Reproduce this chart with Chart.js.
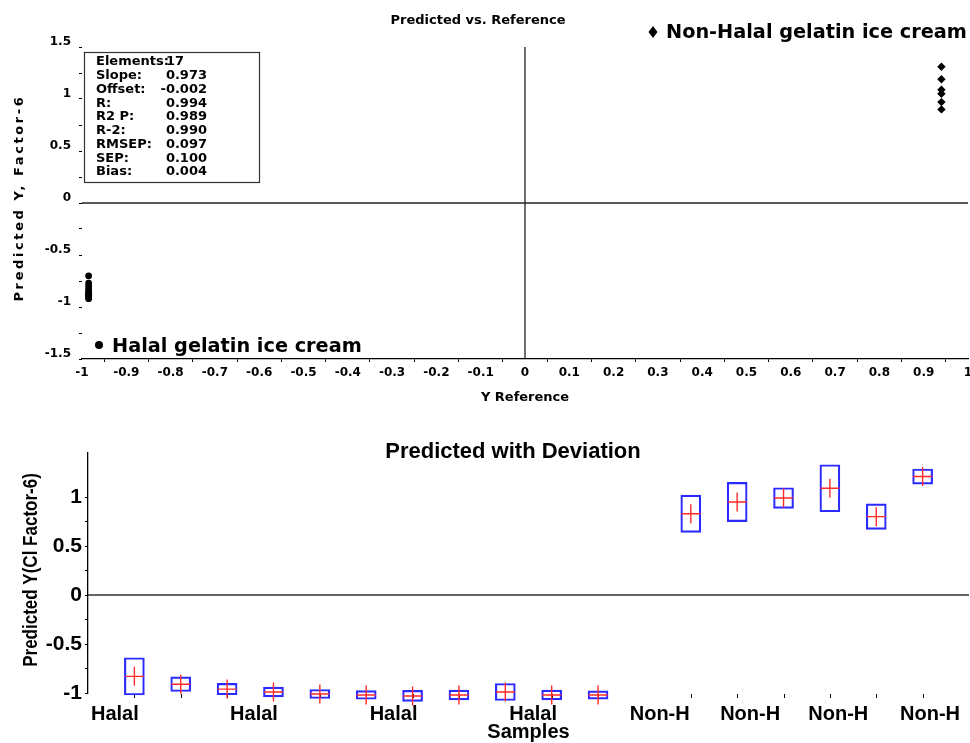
<!DOCTYPE html>
<html>
<head>
<meta charset="utf-8">
<script src="https://cdn.jsdelivr.net/npm/chart.js@4/dist/chart.umd.min.js"></script>
<style>
  html, body { margin: 0; padding: 0; background: #fff; overflow: hidden; }
  #top { position: absolute; left: 0; top: 0; }
  #bottom { position: absolute; left: 0; top: 420px; }
</style>
</head>
<body>
<canvas id="top" width="970" height="410"></canvas>
<canvas id="bottom" width="970" height="323"></canvas>
<script>
// ---------- Predicted vs. Reference ----------
const halalReference    = [-0.985, -0.985, -0.985, -0.985, -0.985, -0.985, -0.985, -0.985, -0.985, -0.985, -0.985];
const halalPredicted    = [-0.70, -0.77, -0.80, -0.83, -0.85, -0.87, -0.88, -0.89, -0.90, -0.91, -0.92];
const nonHalalReference = [0.94, 0.94, 0.94, 0.94, 0.94, 0.94];
const nonHalalPredicted = [1.31, 1.19, 1.09, 1.05, 0.97, 0.90];

const statLabels = ['Elements:', 'Slope:', 'Offset:', 'R:', 'R2 P:', 'R-2:', 'RMSEP:', 'SEP:', 'Bias:'];
const statValues = ['17', '0.973', '-0.002', '0.994', '0.989', '0.990', '0.097', '0.100', '0.004'];
const groupNames = ['Halal gelatin ice cream', 'Non-Halal gelatin ice cream'];

// ---------- Predicted with Deviation ----------
const halalSamplePos    = [1, 2, 3, 4, 5, 6, 7, 8, 9, 10, 11];
const halalSamplePred   = [-0.83, -0.91, -0.96, -0.99, -1.01, -1.02, -1.03, -1.02, -0.99, -1.02, -1.02];
const halalSampleDev    = [0.19, 0.075, 0.058, 0.05, 0.046, 0.044, 0.056, 0.05, 0.087, 0.05, 0.042];
const nonHalalSamplePos  = [13, 14, 15, 16, 17, 18];
const nonHalalSamplePred = [0.83, 0.95, 0.99, 1.09, 0.80, 1.21];
const nonHalalSampleDev  = [0.19, 0.20, 0.105, 0.24, 0.13, 0.077];
const sampleTickPos    = [0.58, 3.58, 6.59, 9.6, 12.33, 14.28, 16.18, 18.16];
const sampleTickLabels = ['Halal', 'Halal', 'Halal', 'Halal', 'Non-H', 'Non-H', 'Non-H', 'Non-H'];

const DJ = 'DejaVu Sans';
const LS = 'Liberation Sans';
Chart.defaults.color = '#000';

function fmt1(v) { return String(Number(v.toFixed(2))); }

// Text decorations of the scatter panel: title, spaced y title, statistics box, group labels
const scatterDecor = {
  id: 'scatterDecor',
  afterDraw(chart) {
    const ctx = chart.ctx;
    ctx.save();
    ctx.fillStyle = '#000';
    ctx.textBaseline = 'middle';

    ctx.font = 'bold 13px "' + DJ + '"';
    ctx.textAlign = 'center';
    ctx.fillText('Predicted vs. Reference', 478, 21);

    ctx.save();
    ctx.translate(20, 198);
    ctx.rotate(-Math.PI / 2);
    ctx.letterSpacing = '2.6px';
    ctx.fillText('Predicted Y, Factor-6', 0, 0);
    ctx.restore();

    ctx.strokeStyle = '#333';
    ctx.lineWidth = 1.2;
    ctx.strokeRect(84.5, 52.5, 175, 130);
    ctx.font = 'bold 13px "' + DJ + '"';
    statLabels.forEach((lab, i) => {
      const y = 62 + i * 13.75;
      ctx.textAlign = 'left';
      ctx.fillText(lab, 96, y);
      const v = statValues[i];
      if (v.indexOf('.') >= 0) { ctx.textAlign = 'right'; ctx.fillText(v, 207, y); }
      else { ctx.textAlign = 'left'; ctx.fillText(v, 166, y); }
    });

    ctx.font = 'bold 19.3px "' + DJ + '"';
    ctx.textAlign = 'left';
    ctx.textBaseline = 'alphabetic';
    ctx.fillText(groupNames[0], 112, 352);
    ctx.fillText(groupNames[1], 666, 38);
    ctx.beginPath();
    ctx.arc(99, 345, 4, 0, Math.PI * 2);
    ctx.fill();
    ctx.beginPath();
    ctx.moveTo(653, 26); ctx.lineTo(657.5, 32); ctx.lineTo(653, 38); ctx.lineTo(648.5, 32);
    ctx.closePath();
    ctx.fill();
    ctx.restore();
  }
};

new Chart(document.getElementById('top'), {
  type: 'scatter',
  data: {
    datasets: [
      {
        label: groupNames[0],
        data: halalReference.map((x, i) => ({ x: x, y: halalPredicted[i] })),
        pointStyle: 'circle', pointRadius: 3.4, backgroundColor: '#000', borderColor: '#000', borderWidth: 0
      },
      {
        label: groupNames[1],
        data: nonHalalReference.map((x, i) => ({ x: x, y: nonHalalPredicted[i] })),
        pointStyle: 'rectRot', pointRadius: 4.2, backgroundColor: '#000', borderColor: '#000', borderWidth: 0
      },
      {
        data: [{ x: -1, y: 0 }, { x: 1, y: 0 }],
        showLine: true, pointRadius: 0, borderColor: '#222', borderWidth: 1.3
      },
      {
        data: [{ x: 0, y: -1.5 }, { x: 0, y: 1.5 }],
        showLine: true, pointRadius: 0, borderColor: '#222', borderWidth: 1.3
      }
    ]
  },
  options: {
    responsive: false,
    animation: false,
    events: [],
    layout: { autoPadding: false, padding: { left: 0, right: 2, top: 47, bottom: 0 } },
    plugins: { legend: { display: false }, tooltip: { enabled: false }, title: { display: false } },
    scales: {
      x: {
        type: 'linear', min: -1, max: 1,
        afterFit(s) { s.height = 51; s.paddingLeft = 0; s.paddingRight = 0; },
        border: { display: true, color: '#000', width: 1.3 },
        grid: {
          drawOnChartArea: false, drawTicks: true, tickLength: 3,
          tickColor: (c) => (Math.round(c.tick.value * 100) % 10 === 0 ? 'rgba(0,0,0,0)' : '#000')
        },
        ticks: {
          stepSize: 0.05, autoSkip: false, maxRotation: 0, minRotation: 0, padding: 4,
          font: { family: DJ, weight: 'bold', size: 12 },
          callback: (v) => { const r = Math.round(v * 100); return r % 10 === 0 ? fmt1(r / 100) : ''; }
        },
        title: {
          display: true, text: 'Y Reference',
          font: { family: DJ, weight: 'bold', size: 13 }, padding: { top: 0, bottom: 5 }
        }
      },
      y: {
        type: 'linear', min: -1.5, max: 1.5,
        afterFit(s) { s.width = 82; },
        border: { display: false },
        grid: { drawOnChartArea: false, drawTicks: true, tickLength: 3, tickColor: '#000' },
        ticks: {
          stepSize: 0.25, autoSkip: false, padding: 8, labelOffset: -5,
          font: { family: DJ, weight: 'bold', size: 12 },
          callback: (v) => { const r = Math.round(v * 100); return r % 50 === 0 ? fmt1(r / 100) : ''; }
        }
      }
    }
  },
  plugins: [scatterDecor]
});

// Title, condensed y title and sample tick marks of the deviation panel
const deviationDecor = {
  id: 'deviationDecor',
  beforeDatasetsDraw(chart) {
    const ctx = chart.ctx;
    const xs = chart.scales.x;
    const b = chart.chartArea.bottom;
    ctx.save();
    ctx.strokeStyle = '#000';
    ctx.lineWidth = 1;
    halalSamplePos.concat(nonHalalSamplePos).forEach((p) => {
      const x = Math.round(xs.getPixelForValue(p)) + 0.5;
      ctx.beginPath();
      ctx.moveTo(x, b + 1);
      ctx.lineTo(x, b + 5);
      ctx.stroke();
    });
    ctx.restore();
  },
  afterDraw(chart) {
    const ctx = chart.ctx;
    ctx.save();
    ctx.fillStyle = '#000';
    ctx.textAlign = 'center';
    ctx.textBaseline = 'middle';
    ctx.font = 'bold 22px "' + LS + '"';
    ctx.fillText('Predicted with Deviation', 513, 32);

    ctx.translate(31, 150);
    ctx.rotate(-Math.PI / 2);
    ctx.scale(0.85, 1);
    ctx.font = 'bold 20px "' + LS + '"';
    ctx.fillText('Predicted Y(Cl Factor-6)', 0, 0);
    ctx.restore();
  }
};

const boxData = halalSamplePos.map((p, i) => ({ x: p, y: [halalSamplePred[i] - halalSampleDev[i], halalSamplePred[i] + halalSampleDev[i]] }))
  .concat(nonHalalSamplePos.map((p, i) => ({ x: p, y: [nonHalalSamplePred[i] - nonHalalSampleDev[i], nonHalalSamplePred[i] + nonHalalSampleDev[i]] })));
const crossData = halalSamplePos.map((p, i) => ({ x: p, y: halalSamplePred[i] }))
  .concat(nonHalalSamplePos.map((p, i) => ({ x: p, y: nonHalalSamplePred[i] })));

new Chart(document.getElementById('bottom'), {
  type: 'bar',
  data: {
    datasets: [
      {
        type: 'scatter', data: crossData,
        pointStyle: 'cross', pointRadius: 9.5, borderColor: '#ff2a2a', borderWidth: 1.4, clip: false
      },
      {
        type: 'bar', data: boxData,
        backgroundColor: 'rgba(0,0,0,0)', borderColor: '#2b2bff', borderWidth: 1.5,
        borderSkipped: false, barThickness: 20, grouped: false, clip: false
      },
      {
        type: 'scatter', data: [{ x: 0, y: 0 }, { x: 19, y: 0 }],
        showLine: true, pointRadius: 0, borderColor: '#333', borderWidth: 1.5
      }
    ]
  },
  options: {
    responsive: false,
    animation: false,
    events: [],
    layout: { autoPadding: false, padding: { left: 0, right: 1, top: 33, bottom: 0 } },
    plugins: { legend: { display: false }, tooltip: { enabled: false }, title: { display: false } },
    scales: {
      x: {
        type: 'linear', min: 0, max: 19, offset: false,
        afterFit(s) { s.height = 50; s.paddingLeft = 0; s.paddingRight = 0; },
        afterBuildTicks(s) { s.ticks = sampleTickPos.map((v) => ({ value: v })); },
        border: { display: false },
        grid: { display: false, drawTicks: false, offset: false },
        ticks: {
          autoSkip: false, maxRotation: 0, minRotation: 0, padding: 9,
          font: { family: LS, weight: 'bold', size: 20 },
          callback: (v, i) => sampleTickLabels[i]
        },
        title: {
          display: true, text: 'Samples',
          font: { family: LS, weight: 'bold', size: 20, lineHeight: 1 }, padding: { top: 0, bottom: 1 }
        }
      },
      y: {
        type: 'linear', min: -1, max: 1.45,
        afterFit(s) { s.width = 88; },
        afterBuildTicks(s) { s.ticks = s.ticks.filter((t) => Math.abs(t.value * 4 - Math.round(t.value * 4)) < 1e-6); },
        border: { display: true, color: '#000', width: 1.3 },
        grid: { drawOnChartArea: false, drawTicks: true, tickLength: 3, tickColor: '#000' },
        ticks: {
          stepSize: 0.25, autoSkip: false, padding: 3,
          font: { family: LS, weight: 'bold', size: 21 },
          callback: (v) => { const r = Math.round(v * 100); return r % 50 === 0 ? fmt1(r / 100) : ''; }
        }
      }
    }
  },
  plugins: [deviationDecor]
});
</script>
</body>
</html>
